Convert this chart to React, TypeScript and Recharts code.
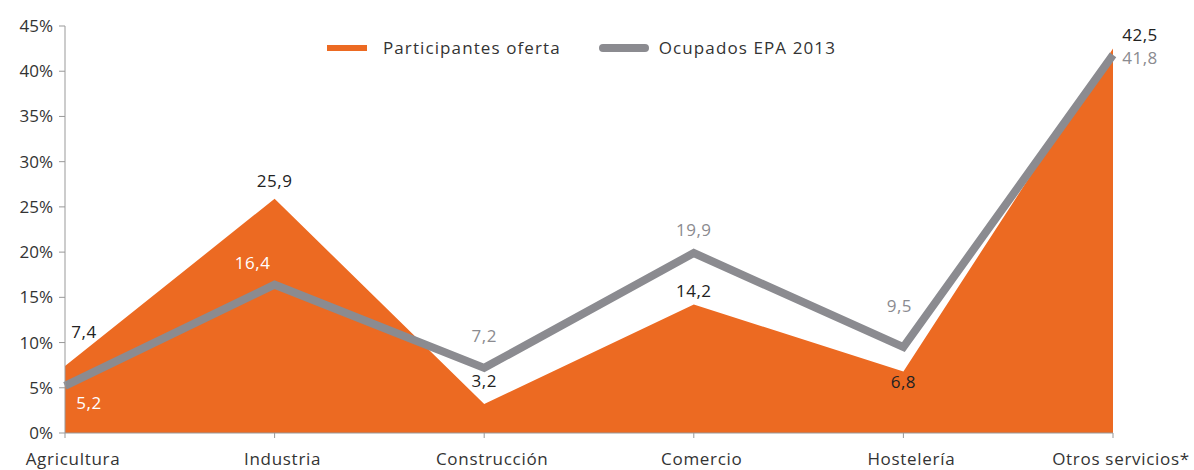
import React from 'react';
import { ComposedChart, Area, Line, XAxis, YAxis, LabelList } from 'recharts';

const categories = ['Agricultura', 'Industria', 'Construcción', 'Comercio', 'Hostelería', 'Otros servicios*'];
const participantes = [7.4, 25.9, 3.2, 14.2, 6.8, 42.5];
const ocupados = [5.2, 16.4, 7.2, 19.9, 9.5, 41.8];
const yTicks = [0, 5, 10, 15, 20, 25, 30, 35, 40, 45];

const data = categories.map((name, i) => ({ name, participantes: participantes[i], ocupados: ocupados[i] }));

const ORANGE = '#EC6A22';
const GREY = '#8B8B90';
const FONT = '"Open Sans", Lato, sans-serif';

// label placement per point: [dx, dy, colour]
const orangeLabelPos: [number, number, string][] = [
  [19, -33, '#222'],
  [0, -16, '#222'],
  [0, -22, '#222'],
  [0, -12, '#222'],
  [0, 12, '#222'],
  [27, -12, '#222'],
];
const greyLabelPos: [number, number, string][] = [
  [24, 18, '#fff'],
  [-22, -20, '#fff'],
  [0, -30, GREY],
  [0, -22, GREY],
  [-4, -40, GREY],
  [27, 5, GREY],
];

const makeLabel = (pos: [number, number, string][]) => (props: any) => {
  const { x, y, value, index } = props;
  const [dx, dy, fill] = pos[index];
  return (
    <text x={x + dx} y={y + dy} textAnchor="middle" dominantBaseline="middle" fill={fill}
      fontSize={17} fontFamily={FONT} letterSpacing={0.5}>
      {String(value).replace('.', ',')}
    </text>
  );
};

const XTick = (props: any) => {
  const { x, y, payload } = props;
  return (
    <text x={x + 8} y={y + 25} textAnchor="middle" fill="#333" fontSize={17} fontFamily={FONT} letterSpacing={0.7}>
      {payload.value}
    </text>
  );
};

const LegendBox = () => (
  <div style={{ position: 'absolute', top: 36, left: 327, display: 'flex', alignItems: 'center',
    fontFamily: FONT, fontSize: 17, letterSpacing: 1.1, color: '#333', whiteSpace: 'nowrap' }}>
    <span style={{ display: 'inline-block', width: 40, height: 6, background: ORANGE, marginRight: 16 }} />
    <span style={{ marginRight: 38 }}>Participantes oferta</span>
    <span style={{ display: 'inline-block', width: 50, height: 8, background: GREY, borderRadius: 4, marginRight: 10 }} />
    <span>Ocupados EPA 2013</span>
  </div>
);

const App: React.FC = () => {
  return (
    <div style={{ position: 'absolute', left: 0, top: 0, width: 1194, height: 470, background: '#fff' }}>
      <ComposedChart width={1194} height={470} data={data}
        margin={{ top: 26, right: 81, left: 0, bottom: 0 }}>
        <XAxis dataKey="name" stroke="#999" tickLine={{ stroke: '#999' }} tickSize={5} height={37}
          tick={<XTick />} interval={0} />
        <YAxis domain={[0, 45]} ticks={yTicks} width={65} stroke="#999" tickSize={6}
          tickFormatter={(v: number) => `${v}%`} tick={{ fill: '#333', fontSize: 17, fontFamily: FONT }} tickMargin={6} />
        <Area type="linear" dataKey="participantes" name="Participantes oferta" fill={ORANGE} fillOpacity={1}
          stroke="none" isAnimationActive={false}>
          <LabelList dataKey="participantes" content={makeLabel(orangeLabelPos)} />
        </Area>
        <Line type="linear" dataKey="ocupados" name="Ocupados EPA 2013" stroke={GREY} strokeWidth={8}
          dot={false} activeDot={false} isAnimationActive={false}>
          <LabelList dataKey="ocupados" content={makeLabel(greyLabelPos)} />
        </Line>
      </ComposedChart>
      <LegendBox />
    </div>
  );
};

export default App;
